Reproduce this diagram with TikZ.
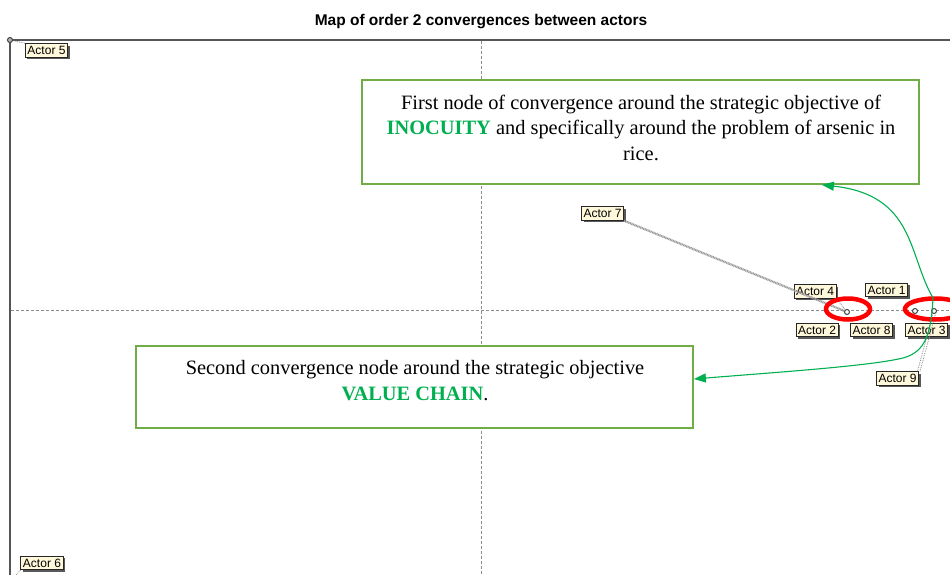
\documentclass[tikz,border=0pt]{standalone}
\usepackage{fontspec}
\setmainfont{Liberation Serif}
\newfontfamily\arialfont{Liberation Sans}
\usetikzlibrary{arrows.meta,shadows}

\definecolor{boxgreen}{HTML}{70AD47}
\definecolor{hlgreen}{HTML}{00B050}
\definecolor{labelfill}{HTML}{FFF8DA}
\definecolor{framegray}{HTML}{555555}
\definecolor{axisgray}{HTML}{8C8C8C}

\tikzset{
  actor/.style={draw=black!85, fill=labelfill, line width=1pt,
    font=\arialfont\fontsize{12}{13}\selectfont, inner xsep=2pt, inner ysep=2.5pt,
    drop shadow={shadow xshift=2pt, shadow yshift=-2pt, fill=black!65, opacity=1}},
  pointmark/.style={circle, draw=black!75, fill=white, line width=1pt, inner sep=0pt, minimum size=5pt},
  axis/.style={axisgray, line width=0.7pt, dash pattern=on 3pt off 2pt},
  link/.style={black!40, line width=2.2pt, dash pattern=on 1pt off 0.6pt},
  thinlink/.style={black!45, line width=0.8pt, densely dotted},
  ring/.style={red, line width=4.5pt},
  callout/.style={draw=boxgreen, fill=white, line width=1.8pt, inner sep=0pt},
  callouttext/.style={align=center, font=\fontsize{20.4}{25.5}\selectfont, inner sep=0pt},
  pointer/.style={hlgreen, line width=1.1pt, -{Triangle[length=12pt,width=9pt]}}
}
\newcommand{\hlword}[1]{\textcolor{hlgreen}{\textbf{#1}}}

\begin{document}
\begin{tikzpicture}[x=1pt,y=-1pt]
  \useasboundingbox (0,0) rectangle (950,575);
  \clip (0,0) rectangle (950,575);

  % title
  \node (title) at (481,22) {\arialfont\bfseries\fontsize{15.5}{17}\selectfont Map of order 2 convergences between actors};

  % plot frame and axes through the centre
  \draw[axis] (481,41) -- (481,575);
  \draw[axis] (11,310) -- (950,310);
  \draw[framegray, line width=1.5pt] (10,575) -- (10,40) -- (950,40);

  % actor positions
  \node[pointmark, fill=black!30] (p5) at (10,40) {};
  \node[pointmark] (p28) at (847,312) {};
  \node[pointmark] (p1) at (915,311) {};
  \node[pointmark] (p3) at (934,311) {};
  \node[pointmark] (p6) at (13,578) {};

  % actor labels
  \node[actor] (a5) at (46.5,50.5) {Actor 5};
  \node[actor] (a6) at (42,563) {Actor 6};
  \node[actor] (a7) at (602.5,213.5) {Actor 7};
  \node[actor] (a4) at (815,291.5) {Actor 4};
  \node[actor] (a1) at (886.5,290) {Actor 1};
  \node[actor] (a2) at (817,330) {Actor 2};
  \node[actor] (a8) at (871.5,330) {Actor 8};
  \node[actor] (a3) at (926.5,330) {Actor 3};
  \node[actor] (a9) at (897.5,378.5) {Actor 9};

  % leader lines from labels to positions
  \draw[link] (a7.south east) -- (p28);
  \draw[thinlink] (a4.south east) -- (p28);
  \draw[thinlink] ([xshift=-1.5pt]a9.north east) -- ([xshift=-1pt]p3.south);
  \draw[thinlink] ([xshift=1pt]a9.north east) -- ([xshift=1.5pt]p3.south);
  \draw[thinlink] (a5.north west) -- (p5);
  \draw[thinlink] (a6.south west) -- (p6);

  % highlighted convergence groups
  \draw[ring] (848,309) ellipse [x radius=22, y radius=10.5];
  \draw[ring] (935,309) ellipse [x radius=30, y radius=10.5];

  % explanatory boxes
  \node[callout, minimum width=557, minimum height=104] (box1) at (640.5,132) {};
  \node[callouttext] (t1) at (641,127.5) {First node of convergence around the strategic objective of\\
    \hlword{INOCUITY} and specifically around the problem of arsenic in\\ rice.};
  \node[callout, minimum width=557, minimum height=82] (box2) at (414.5,387) {};
  \node[callouttext] (t2) at (415,380.5) {Second convergence node around the strategic objective\\
    \hlword{VALUE CHAIN}.};

  % pointers from the second group to the boxes
  \coordinate (hub) at (933,298);
  \draw[pointer] (hub) .. controls (908,255) and (915,195) .. ([xshift=-98pt]box1.south east);
  \draw[pointer] (hub) .. controls (931,335) and (925,352) .. (903,358)
    .. controls (870,366) and (780,372) .. ([yshift=8pt]box2.east);
\end{tikzpicture}
\end{document}
